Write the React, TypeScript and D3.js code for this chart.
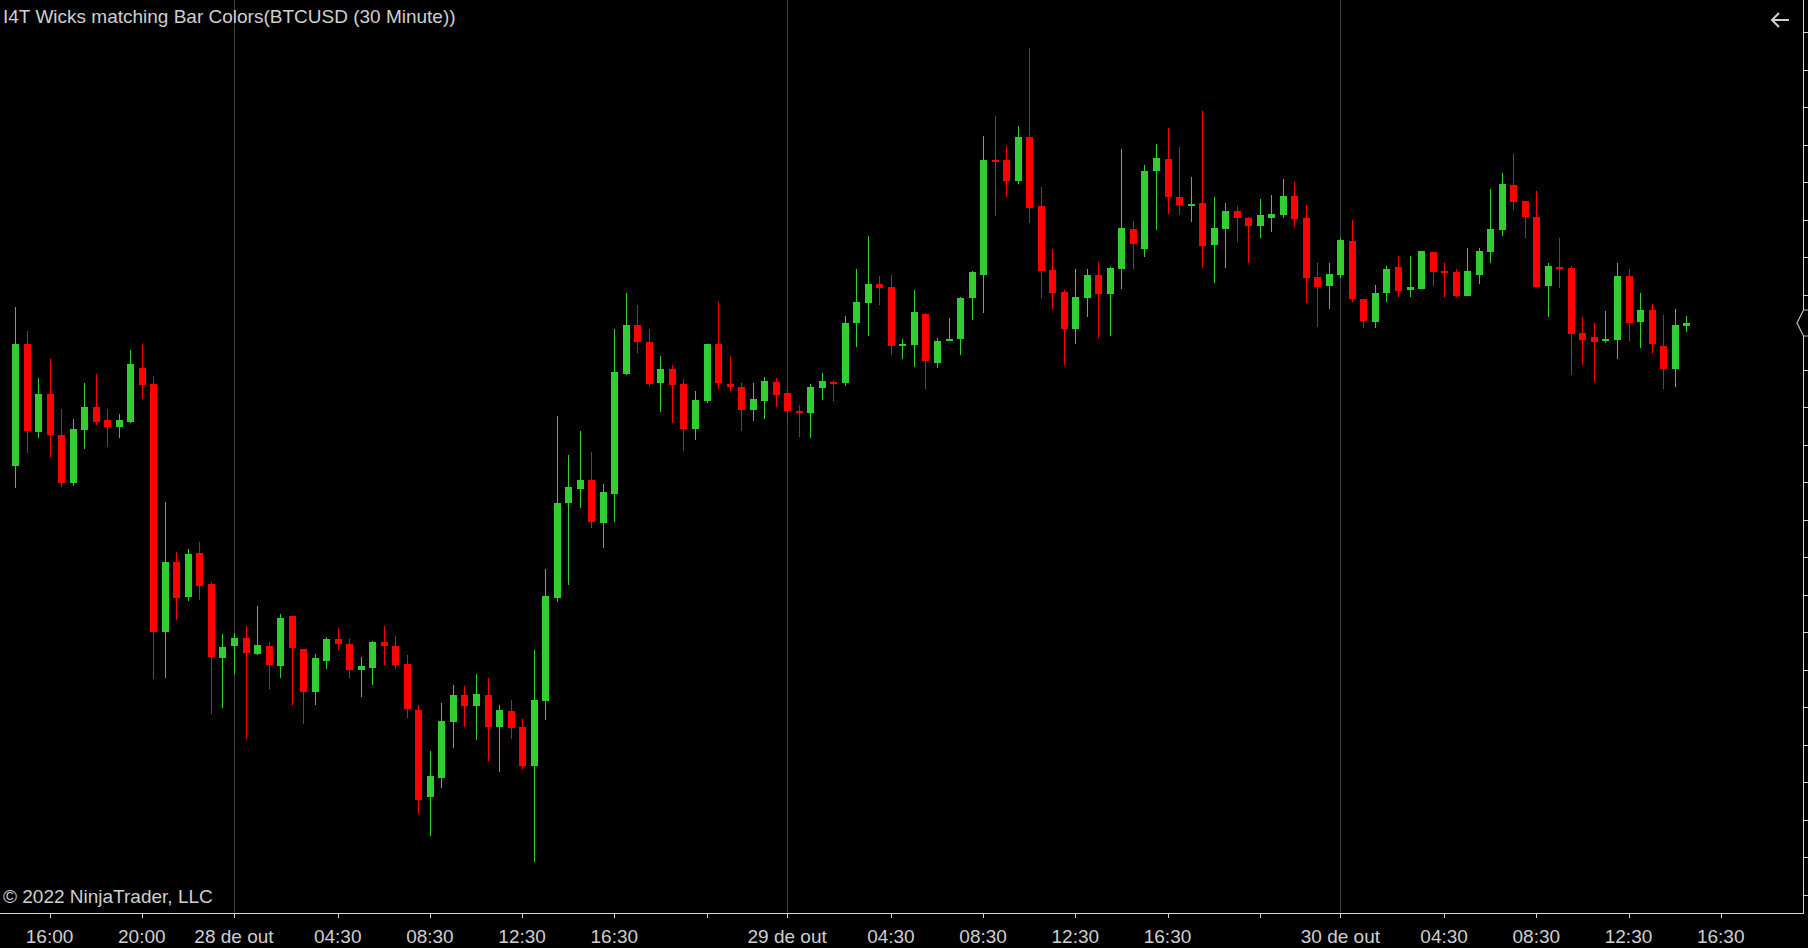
import React from 'react';
import * as d3 from 'd3';

// 30 minute BTCUSD bars, first bar closes 27 Oct 2022 14:30
const firstBar = '2022-10-27T14:30';

const opens = [
  20472, 20634, 20517, 20568, 20513, 20449, 20520, 20550, 20533, 20524,
  20530, 20603, 20581, 20250, 20344, 20297, 20356, 20314, 20216, 20232,
  20242, 20221, 20232, 20205, 20272, 20228, 20171, 20212, 20241, 20235,
  20200, 20203, 20237, 20232, 20208, 20146, 20030, 20056, 20131, 20166,
  20152, 20166, 20124, 20145, 20124, 20072, 20158, 20296, 20423, 20441,
  20453, 20396, 20435, 20594, 20660, 20637, 20582, 20601, 20581, 20521,
  20559, 20634, 20581, 20577, 20547, 20559, 20584, 20569, 20545, 20543,
  20576, 20584, 20582, 20662, 20689, 20715, 20710, 20632, 20633, 20675,
  20609, 20638, 20641, 20696, 20726, 20879, 20880, 20852, 20910, 20818,
  20733, 20704, 20654, 20696, 20726, 20701, 20735, 20788, 20761, 20865,
  20881, 20830, 20819, 20822, 20767, 20788, 20812, 20803, 20792, 20803,
  20806, 20832, 20803, 20724, 20712, 20727, 20772, 20695, 20664, 20703,
  20737, 20707, 20708, 20757, 20731, 20730, 20699, 20727, 20757, 20787,
  20846, 20825, 20804, 20712, 20737, 20736, 20649, 20644, 20639, 20640,
  20725, 20664, 20680, 20632, 20601, 20659,
];

const highs = [
  20684, 20652, 20589, 20614, 20548, 20534, 20583, 20595, 20548, 20541,
  20627, 20634, 20592, 20424, 20357, 20361, 20370, 20317, 20248, 20249,
  20258, 20285, 20237, 20274, 20272, 20228, 20221, 20244, 20256, 20241,
  20217, 20239, 20258, 20245, 20220, 20153, 20092, 20156, 20180, 20178,
  20195, 20189, 20153, 20160, 20134, 20226, 20334, 20538, 20486, 20518,
  20490, 20448, 20654, 20702, 20686, 20654, 20618, 20607, 20588, 20572,
  20635, 20690, 20618, 20582, 20582, 20590, 20589, 20574, 20553, 20581,
  20596, 20586, 20672, 20735, 20779, 20725, 20726, 20641, 20706, 20676,
  20642, 20669, 20697, 20732, 20912, 20938, 20898, 20925, 21029, 20844,
  20761, 20706, 20735, 20734, 20744, 20737, 20894, 20798, 20873, 20901,
  20922, 20897, 20857, 20945, 20831, 20823, 20819, 20804, 20828, 20833,
  20854, 20850, 20820, 20743, 20743, 20776, 20800, 20695, 20713, 20738,
  20752, 20752, 20758, 20757, 20743, 20735, 20762, 20762, 20841, 20862,
  20888, 20825, 20838, 20742, 20776, 20738, 20670, 20662, 20678, 20742,
  20734, 20703, 20688, 20673, 20681, 20672,
];

const lows = [
  20443, 20489, 20509, 20484, 20444, 20445, 20495, 20527, 20497, 20509,
  20529, 20561, 20188, 20189, 20266, 20292, 20293, 20141, 20149, 20195,
  20108, 20220, 20175, 20189, 20153, 20128, 20153, 20201, 20226, 20189,
  20164, 20180, 20206, 20201, 20136, 20008, 19979, 20042, 20096, 20124,
  20107, 20079, 20064, 20108, 20068, 19944, 20133, 20290, 20313, 20416,
  20389, 20362, 20397, 20593, 20623, 20579, 20544, 20529, 20492, 20507,
  20556, 20574, 20572, 20519, 20532, 20534, 20551, 20528, 20511, 20509,
  20560, 20559, 20579, 20631, 20645, 20686, 20620, 20614, 20604, 20574,
  20603, 20638, 20620, 20666, 20676, 20805, 20830, 20848, 20796, 20696,
  20681, 20606, 20634, 20671, 20643, 20645, 20708, 20735, 20750, 20786,
  20808, 20806, 20797, 20736, 20716, 20736, 20770, 20743, 20776, 20784,
  20803, 20791, 20689, 20657, 20681, 20723, 20691, 20656, 20656, 20690,
  20697, 20697, 20708, 20712, 20697, 20697, 20699, 20715, 20742, 20779,
  20813, 20776, 20711, 20671, 20709, 20593, 20606, 20584, 20636, 20614,
  20639, 20629, 20623, 20574, 20577, 20651,
];

const closes = [
  20634, 20519, 20568, 20513, 20449, 20521, 20550, 20531, 20524, 20533,
  20608, 20580, 20251, 20344, 20296, 20354, 20312, 20217, 20230, 20243,
  20222, 20233, 20206, 20269, 20229, 20171, 20216, 20241, 20234, 20200,
  20205, 20237, 20232, 20206, 20148, 20027, 20058, 20132, 20166, 20152,
  20168, 20124, 20146, 20123, 20072, 20160, 20298, 20422, 20444, 20453,
  20397, 20437, 20597, 20660, 20637, 20581, 20601, 20580, 20521, 20560,
  20634, 20582, 20577, 20547, 20561, 20585, 20567, 20545, 20543, 20577,
  20585, 20582, 20662, 20690, 20715, 20709, 20632, 20635, 20677, 20612,
  20638, 20641, 20696, 20730, 20880, 20877, 20852, 20910, 20816, 20732,
  20703, 20654, 20697, 20726, 20701, 20736, 20789, 20768, 20865, 20883,
  20830, 20820, 20821, 20765, 20789, 20812, 20803, 20792, 20806, 20808,
  20832, 20801, 20723, 20711, 20728, 20773, 20694, 20665, 20703, 20735,
  20705, 20710, 20758, 20730, 20729, 20698, 20732, 20758, 20788, 20848,
  20824, 20804, 20711, 20738, 20735, 20648, 20640, 20637, 20641, 20725,
  20662, 20680, 20634, 20601, 20660, 20662,
];

// time axis ticks ('' = tick without a label)
const tickStamps = [
  '2022-10-27T16:00', '2022-10-27T20:00', '2022-10-28T00:00', '2022-10-28T04:30',
  '2022-10-28T08:30', '2022-10-28T12:30', '2022-10-28T16:30', '2022-10-28T20:30',
  '2022-10-29T00:00', '2022-10-29T04:30', '2022-10-29T08:30', '2022-10-29T12:30',
  '2022-10-29T16:30', '2022-10-29T20:30', '2022-10-30T00:00', '2022-10-30T04:30',
  '2022-10-30T08:30', '2022-10-30T12:30', '2022-10-30T16:30',
];
const tickLabels = [
  '16:00', '20:00', '28 de out', '04:30', '08:30', '12:30', '16:30', '',
  '29 de out', '04:30', '08:30', '12:30', '16:30', '',
  '30 de out', '04:30', '08:30', '12:30', '16:30',
];
const dayLabels = ['28 de out', '29 de out', '30 de out'];

const priceStep = 50;
const priceRange = [19876, 21093];

const W = 1808;
const H = 948;
const plotRight = 1803;
const plotBottom = 913;
const UP = '#32cd32';
const DOWN = '#ff0000';
const TEXT = '#cfcfcf';
const AXIS = '#d4d4d4';
const FONT = '"Liberation Sans", Arial, Helvetica, sans-serif';

export default function App() {
  const t0 = new Date(firstBar).getTime();
  const halfHour = 30 * 60 * 1000;
  const bars = opens.map((o, i) => ({
    time: new Date(t0 + i * halfHour),
    open: o,
    high: highs[i],
    low: lows[i],
    close: closes[i],
  }));

  const x = d3.scaleTime()
    .domain([bars[0].time, bars[bars.length - 1].time])
    .range([15, 15 + (bars.length - 1) * 11.525]);

  const y = d3.scaleLinear()
    .domain(priceRange)
    .range([plotBottom, 0]);

  const priceTicks = d3.range(
    Math.ceil(priceRange[0] / priceStep) * priceStep,
    priceRange[1],
    priceStep
  );

  const timeTicks = tickStamps.map((s, i) => ({ x: x(new Date(s)), label: tickLabels[i] }));
  const last = bars[bars.length - 1];
  const lastY = Math.round(y(last.close));

  return (
    <div>
      <style>{`html,body{margin:0;padding:0;background:#000;overflow:hidden}`}</style>
      <svg width={W} height={H} style={{ display: 'block', background: '#000' }} fontFamily={FONT}>
        {/* day separators */}
        {timeTicks.filter(t => dayLabels.includes(t.label)).map((t, i) => (
          <rect key={`d${i}`} x={Math.round(t.x)} y={0} width={1} height={plotBottom} fill="#3d3d3d" />
        ))}

        {/* candles */}
        <g shapeRendering="crispEdges">
          {bars.map((b, i) => {
            const cx = Math.round(x(b.time));
            const color = b.close >= b.open ? UP : DOWN;
            const top = y(Math.max(b.open, b.close));
            const bot = y(Math.min(b.open, b.close));
            const bh = Math.max(2, bot - top);
            return (
              <g key={i} fill={color}>
                <rect x={cx} y={y(b.high)} width={1} height={Math.max(1, y(b.low) - y(b.high))} />
                <rect x={cx - 3} y={top - (bh - (bot - top)) / 2} width={7} height={bh} />
              </g>
            );
          })}
        </g>

        {/* axes */}
        <g shapeRendering="crispEdges" fill={AXIS}>
          <rect x={0} y={plotBottom} width={plotRight + 1} height={1} />
          <rect x={plotRight} y={0} width={1} height={plotBottom + 1} />
          {timeTicks.map((t, i) => (
            <rect key={`t${i}`} x={Math.round(t.x)} y={plotBottom + 1} width={1} height={4} />
          ))}
          {priceTicks.map(p => (
            <rect key={`p${p}`} x={plotRight} y={Math.round(y(p))} width={6} height={1} />
          ))}
        </g>

        {/* last price marker */}
        <path
          d={`M${W},${lastY - 13} L${plotRight + 0.5},${lastY - 13} L${plotRight - 6},${lastY} L${plotRight + 0.5},${lastY + 13} L${W},${lastY + 13}`}
          fill="#000"
          stroke="#bdbdbd"
          strokeWidth={1.2}
        />

        {/* time labels */}
        {timeTicks.filter(t => t.label).map((t, i) => (
          <text key={`l${i}`} x={t.x} y={943} fill={TEXT} fontSize={19} textAnchor="middle">{t.label}</text>
        ))}

        <text x={3} y={23} fill={TEXT} fontSize={19}>I4T Wicks matching Bar Colors(BTCUSD (30 Minute))</text>
        <text x={3} y={903} fill={TEXT} fontSize={19}>© 2022 NinjaTrader, LLC</text>

        {/* back arrow */}
        <path d="M1789,20 L1772,20 M1779,13 L1772,20 L1779,27" fill="none" stroke="#d0d0d0" strokeWidth={2} />
      </svg>
    </div>
  );
}
